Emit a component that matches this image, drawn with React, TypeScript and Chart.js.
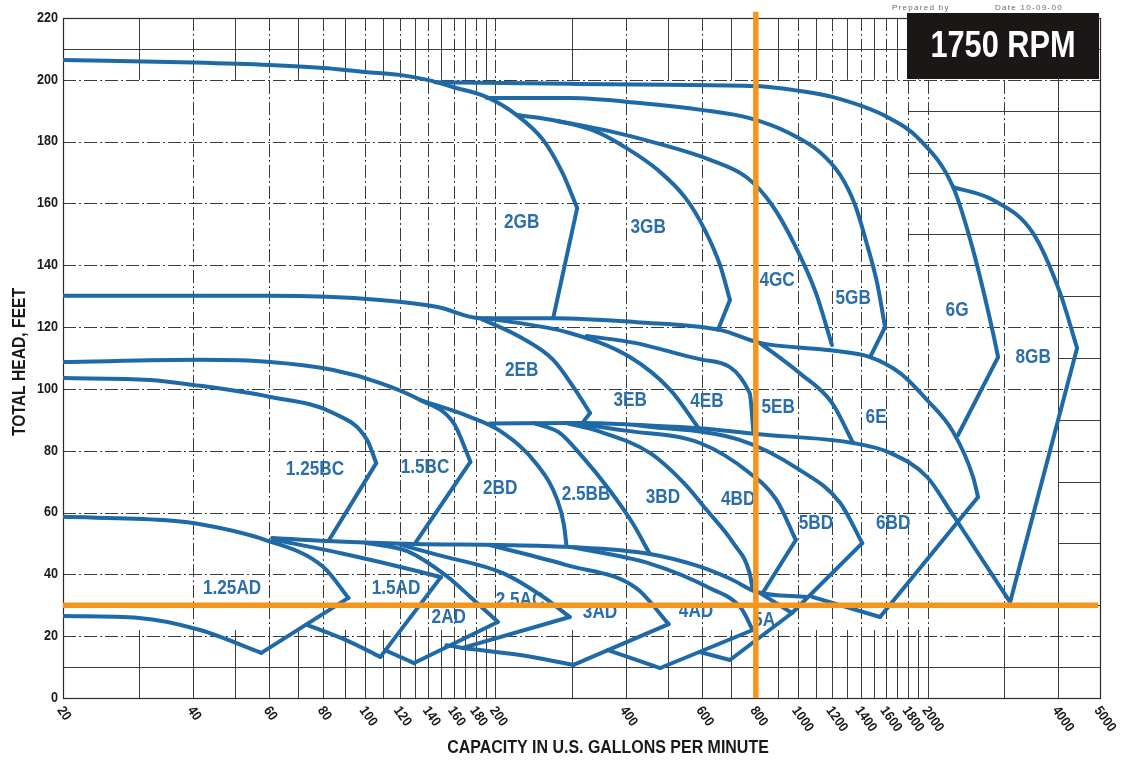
import React, { useEffect, useRef } from 'react';
import { Chart, registerables } from 'chart.js';

Chart.register(...registerables);

type P = [number, number];

// ---- axis ticks ----
const xTickValues = [20, 40, 60, 80, 100, 120, 140, 160, 180, 200, 400, 600, 800, 1000, 1200, 1400, 1600, 1800, 2000, 4000, 5000];
const yTickValues = [0, 20, 40, 60, 80, 100, 120, 140, 160, 180, 200, 220];
const gridGpm = [20, 30, 40, 50, 60, 70, 80, 90, 100, 110, 120, 130, 140, 150, 160, 170, 180, 190, 200, 300, 400, 500, 600, 700, 800, 900, 1000, 1100, 1200, 1300, 1400, 1500, 1600, 1700, 1800, 1900, 2000, 3000, 4000, 5000];
const dashedHeads = [20, 40, 60, 80, 100, 120, 140, 160, 180, 200];

// ---- pump curves: [capacity gpm, total head ft] ----
// G family
const curve2GB: P[] = [[20, 206.4], [40, 205.6], [60, 204.8], [80, 203.8], [100, 202.5], [120, 201.6], [140, 199.9], [160, 197.6], [191, 194.4], [224, 188.6], [258, 180.5], [286, 169.8], [309, 158.5]];
const kink2GB: P[] = [[309, 158.5], [272, 122.9]];
const curve6G: P[] = [[145, 199.2], [300, 198.7], [500, 198.4], [800, 198], [1000, 196.5], [1208, 194.4], [1610, 188], [1919, 180.5], [2287, 165.3], [2544, 144.9], [2830, 118], [2906, 110.3]];
const kink6G: P[] = [[2906, 110.3], [2348, 85.1]];
const curve8GB: P[] = [[2287, 165.3], [2830, 161.1], [3500, 150.4], [4044, 131], [4426, 113.2]];
const kink8GB: P[] = [[4426, 113.2], [3098, 31]];
const curve5GB: P[] = [[191, 194.1], [297, 194.1], [431, 192.5], [604, 190.2], [774, 187.6], [955, 182.8], [1126, 176.6], [1254, 169.2], [1357, 159.5], [1447, 146.6], [1526, 134.3], [1592, 120]];
const kink5GB: P[] = [[1592, 120], [1470, 110.3]];
const curve3GB: P[] = [[224, 188.6], [278, 186.7], [340, 183.4], [402, 177.9], [475, 170.8], [550, 161.8], [610, 151.4], [661, 140.1], [697, 128.8]];
const kink3GB: P[] = [[697, 128.8], [654, 119.1]];
const curve4GC: P[] = [[278, 186.7], [367, 183.4], [481, 179.2], [627, 174.1], [763, 168.4], [872, 159.5], [984, 146.6], [1100, 131.3], [1200, 114.2]];

// E family
const curveETop: P[] = [[20, 130.1], [60, 130.1], [108, 128.8], [147, 126.5], [184, 122.9], [272, 122.9], [424, 121.6], [661, 119.1], [817, 114.9], [1190, 112.5], [1470, 110.3], [1725, 105.1], [1991, 96.4], [2287, 86.1], [2544, 71.5], [2612, 65]];
const kink6E: P[] = [[2612, 65], [1550, 26.2]];
const curve2EB: P[] = [[184, 122.9], [228, 116.8], [272, 109.4], [303, 100.6], [331, 92.2]];
const kink2EB: P[] = [[331, 92.2], [318, 89]];
const curve3EB: P[] = [[191, 122.9], [297, 118.1], [409, 110.3], [508, 99.6], [594, 86.7]];
const curve4EB: P[] = [[325, 117.1], [420, 114.9], [604, 109.4], [774, 98.7], [790, 86]];
const curve5EB: P[] = [[817, 114.9], [1010, 105.1], [1200, 95.5], [1343, 82.5]];

// B / D family
const curve125BC: P[] = [[20, 103.5], [31.8, 102.9], [40, 101.3], [60.3, 97.4], [84.3, 92.2], [101, 83.5], [106, 76]];
const kink125BC: P[] = [[106, 76], [82.2, 50.8]];
const curve15BC: P[] = [[20, 108.7], [41.5, 109.4], [60.3, 108.7], [84.3, 106.1], [108.4, 101.9], [134, 96.4], [160, 89], [171.8, 79.3], [175, 76.4]];
const kink15BC: P[] = [[175, 76.4], [130, 49.8]];
const curve2BD: P[] = [[134, 96.4], [175, 90.9], [205, 86.4], [250, 75.4], [278, 64.1], [288, 56], [292, 49.2]];
const curveDTop: P[] = [[194, 88.8], [318, 89], [431, 88.3], [594, 87.3], [800, 85.4], [1343, 82.5], [1636, 79.3], [1991, 71.5], [2287, 59.2]];
const tailDTop: P[] = [[2287, 59.2], [3098, 31]];
const curve25BB: P[] = [[245, 88.9], [280, 86], [318, 78], [367, 67.3], [415, 56.6], [455, 46.6]];
const curve3BD: P[] = [[290, 89], [350, 86.1], [455, 79.3], [545, 69.6], [616, 60.8], [710, 50.1], [774, 40.4], [787, 35]];
const curve4BD: P[] = [[300, 89], [400, 86.5], [594, 82.5], [774, 72.8], [893, 64.1], [990, 51.1]];
const kink4BD: P[] = [[990, 51.1], [830, 34]];
const curve5BD: P[] = [[420, 88.3], [734, 83.5], [1010, 73.8], [1254, 63.1], [1410, 50.1]];
const kink5BD: P[] = [[1410, 50.1], [970, 27.5]];
const bottom6BD: P[] = [[1080, 32.7], [1550, 26.2]];

// A family
const curve125ADTop: P[] = [[20, 58.6], [34.1, 57.6], [40, 56.6], [58.8, 51.1], [80, 42.4], [91.4, 32.4]];
const kink125AD: P[] = [[91.4, 32.4], [57.5, 14.6]];
const curve125ADBottom: P[] = [[20, 26.5], [30, 25.9], [41.5, 22], [57.5, 14.6]];
const curveATop: P[] = [[60.9, 51.8], [81.8, 50.8], [130, 49.8], [205, 49.5], [292, 48.9], [455, 46.6], [594, 42.5], [700, 38.5], [804, 34.3], [1050, 32.7]];
const curve15ADTop: P[] = [[61.2, 51.3], [87.3, 46.9], [120.6, 42.4], [149.6, 39.1]];
const kink15AD: P[] = [[149.6, 39.1], [108.4, 13.3]];
const curve15ADBottom: P[] = [[73.6, 23.6], [90, 18.8], [108.4, 13.3]];
const curve2ADTop: P[] = [[100, 50.2], [125, 47.5], [154, 39.5], [175, 32.7], [202.6, 24.6]];
const kink2AD: P[] = [[202.6, 24.6], [129.7, 11.3]];
const curve2ADBottom: P[] = [[111, 15.5], [129.7, 11.3]];
const curve25ACTop: P[] = [[120.6, 49.6], [147, 46.3], [208, 40.4], [258, 32.7], [297, 26.2]];
const kink25AC: P[] = [[297, 26.2], [168, 16.2]];
const curve25ACBottom: P[] = [[154, 17.1], [168, 16.2]];
const curve3ADTop: P[] = [[194, 49.5], [292, 43], [424, 35.5], [503, 23.9]];
const kink3AD: P[] = [[503, 23.9], [303, 10.7]];
const curve3ADBottom: P[] = [[168, 16.2], [228, 13.9], [303, 10.7]];
const curve4ADTop: P[] = [[300, 48.8], [455, 43.5], [627, 35.5], [740, 29], [787, 22]];
const kink4AD: P[] = [[787, 22], [481, 9.7]];
const curve4ADBottom: P[] = [[364, 15.5], [481, 9.7]];
const curve5ATop: P[] = [[817, 34], [970, 27.5]];
const kink5A: P[] = [[970, 27.5], [697, 12.3]];
const curve5ABottom: P[] = [[594, 14.9], [697, 12.3]];

// ---- model labels ----
const modelNames = ['2GB', '3GB', '4GC', '5GB', '6G', '8GB', '2EB', '3EB', '4EB', '5EB', '6E', '1.25BC', '1.5BC', '2BD', '2.5BB', '3BD', '4BD', '5BD', '6BD', '1.25AD', '1.5AD', '2AD', '2.5AC', '3AD', '4AD', '5A'];
const modelGpm = [230, 451, 896, 1343, 2336, 3502, 230, 410, 617, 901, 1518, 76.5, 137.5, 205, 324, 488, 728, 1102, 1662, 49.2, 117.8, 156, 228, 349, 582, 836];
const modelHead = [154, 152.1, 135.2, 129.4, 125.5, 110.3, 105.8, 96.4, 95.8, 94.1, 90.6, 73.8, 74.7, 67.9, 65.7, 65, 64.1, 56.6, 56.3, 35.3, 35.3, 26.2, 31.7, 27.8, 28.1, 25.2];

// ---- reference (duty point) lines ----
const referenceGpm = [800];
const referenceHead = [30];

const smoothCurves: P[][] = [
  curve2GB, curve6G, curve8GB, curve5GB, curve3GB, curve4GC,
  curveETop, curve2EB, curve3EB, curve4EB, curve5EB,
  curve125BC, curve15BC, curve2BD, curveDTop, curve25BB, curve3BD, curve4BD, curve5BD,
  curve125ADTop, curve125ADBottom, curveATop, curve15ADTop, curve15ADBottom, curve2ADTop, curve2ADBottom,
  curve25ACTop, curve25ACBottom, curve3ADTop, curve3ADBottom, curve4ADTop, curve4ADBottom, curve5ATop, curve5ABottom,
];
const straightSegments: P[][] = [
  kink2GB, kink6G, kink8GB, kink5GB, kink3GB, kink6E, kink2EB,
  kink125BC, kink15BC, tailDTop, kink4BD, kink5BD, bottom6BD,
  kink125AD, kink15AD, kink2AD, kink25AC, kink3AD, kink4AD, kink5A,
];

const BLUE = '#1e69a6';
const LABEL_BLUE = '#2b6ea9';
const ORANGE = '#f4961e';
const GRID = '#3c3c3c';
const FONT = '"Liberation Sans", Arial, sans-serif';

function drawText(
  ctx: CanvasRenderingContext2D, s: string, x: number, y: number,
  o: { size: number; color: string; sx?: number; align?: CanvasTextAlign; rot?: number; weight?: string; spacing?: string }
) {
  ctx.save();
  ctx.translate(x, y);
  if (o.rot) ctx.rotate(o.rot);
  ctx.scale(o.sx ?? 1, 1);
  ctx.font = `${o.weight ?? 'bold'} ${o.size}px ${FONT}`;
  ctx.fillStyle = o.color;
  ctx.textAlign = o.align ?? 'center';
  ctx.textBaseline = 'middle';
  if (o.spacing) (ctx as any).letterSpacing = o.spacing;
  ctx.fillText(s, 0, 0);
  ctx.restore();
}

const decorPlugin = {
  id: 'decor',
  beforeDatasetsDraw(chart: any) {
    const { ctx, chartArea: a } = chart;
    const X = (v: number) => chart.scales.x.getPixelForValue(v);
    const Y = (v: number) => chart.scales.y.getPixelForValue(v);
    const DASH = [13, 3, 2, 3];
    ctx.save();
    ctx.strokeStyle = GRID;
    ctx.lineWidth = 1;
    const line = (x1: number, y1: number, x2: number, y2: number, dash: number[]) => {
      ctx.setLineDash(dash);
      ctx.beginPath();
      ctx.moveTo(x1, y1);
      ctx.lineTo(x2, y2);
      ctx.stroke();
    };
    for (const v of gridGpm) {
      const px = Math.round(X(v)) + 0.5;
      if (v === 4000) {
        line(px, a.top, px, a.bottom, []);
      } else if (xTickValues.includes(v) || v === 3000) {
        line(px, a.top, px, Y(20), DASH);
        line(px, Y(20), px, a.bottom, []);
      } else {
        line(px, a.top, px, Y(200), []);
        line(px, Y(22), px, a.bottom, []);
      }
    }
    for (const h of dashedHeads) {
      const py = Math.round(Y(h)) + 0.5;
      line(a.left, py, a.right, py, DASH);
    }
    for (const h of [10, 210]) {
      const py = Math.round(Y(h)) + 0.5;
      line(a.left, py, a.right, py, []);
    }
    for (const h of [150, 170, 190]) {
      const py = Math.round(Y(h)) + 0.5;
      line(X(1800), py, a.right, py, []);
    }
    for (const h of [30, 50, 70, 90, 110, 130]) {
      const py = Math.round(Y(h)) + 0.5;
      line(X(4000), py, a.right, py, []);
    }
    ctx.setLineDash([]);
    ctx.lineWidth = 1.2;
    ctx.strokeStyle = '#2a2a2a';
    ctx.strokeRect(a.left + 0.5, a.top + 0.5, a.right - a.left, a.bottom - a.top);
    ctx.restore();

    modelNames.forEach((name, i) => {
      drawText(ctx, name, X(modelGpm[i]), Y(modelHead[i]), { size: 20, color: LABEL_BLUE, sx: 0.86 });
    });
  },
  afterDraw(chart: any) {
    const { ctx, chartArea: a } = chart;
    const X = (v: number) => chart.scales.x.getPixelForValue(v);
    const Y = (v: number) => chart.scales.y.getPixelForValue(v);
    for (const v of yTickValues) {
      drawText(ctx, String(v), a.left - 5, Y(v), { size: 14, color: '#1a1a1a', sx: 0.9, align: 'right' });
    }
    for (const v of xTickValues) {
      drawText(ctx, String(v), X(v) - 3, a.bottom + 10, { size: 14, color: '#1a1a1a', sx: 0.88, align: 'left', rot: 0.96 });
    }
    drawText(ctx, 'TOTAL HEAD, FEET', 20, (a.top + a.bottom) / 2 + 4, { size: 18, color: '#1a1a1a', sx: 0.87, rot: -Math.PI / 2 });
    drawText(ctx, 'CAPACITY IN U.S. GALLONS PER MINUTE', a.left + 545, a.bottom + 50, { size: 19, color: '#1a1a1a', sx: 0.84 });

    // speed box
    ctx.save();
    ctx.fillStyle = '#1b1716';
    ctx.fillRect(a.right - 193, a.top - 5, 192, 66);
    ctx.restore();
    drawText(ctx, '1750 RPM', a.right - 97, a.top + 29, { size: 37, color: '#ffffff', sx: 0.83 });
    drawText(ctx, 'Prepared by', a.right - 208, 8, { size: 8, color: '#6a6a6a', align: 'left', weight: 'normal', spacing: '1.3px' });
    drawText(ctx, 'Date 10-09-00', a.right - 105, 8, { size: 8, color: '#6a6a6a', align: 'left', weight: 'normal', spacing: '1.3px' });
  },
};

export default function App() {
  const ref = useRef<HTMLCanvasElement | null>(null);
  useEffect(() => {
    if (!ref.current) return;
    const toPts = (arr: P[]) => arr.map(([x, y]) => ({ x, y }));
    const datasets: any[] = [];
    datasets.push({
      data: [{ x: referenceGpm[0], y: 0 }, { x: referenceGpm[0], y: 222 }],
      showLine: true, pointRadius: 0, borderColor: ORANGE, borderWidth: 5.5, tension: 0, clip: false, order: 0,
    });
    datasets.push({
      data: [{ x: 20, y: referenceHead[0] }, { x: 4950, y: referenceHead[0] }],
      showLine: true, pointRadius: 0, borderColor: ORANGE, borderWidth: 5.5, tension: 0, clip: false, order: 0,
    });
    for (const c of smoothCurves) {
      datasets.push({
        data: toPts(c), showLine: true, pointRadius: 0, borderColor: BLUE, borderWidth: 4,
        cubicInterpolationMode: 'monotone', borderCapStyle: 'round', borderJoinStyle: 'round', order: 1,
      });
    }
    for (const c of straightSegments) {
      datasets.push({
        data: toPts(c), showLine: true, pointRadius: 0, borderColor: BLUE, borderWidth: 4,
        tension: 0, borderCapStyle: 'round', borderJoinStyle: 'round', order: 1,
      });
    }
    const chart = new Chart(ref.current, {
      type: 'scatter',
      data: { datasets },
      options: {
        animation: false,
        responsive: false,
        devicePixelRatio: 1,
        events: [],
        layout: { padding: { left: 63, right: 21, top: 18, bottom: 63 } },
        plugins: { legend: { display: false }, tooltip: { enabled: false } },
        scales: {
          x: { type: 'logarithmic', min: 20, max: 5000, display: false },
          y: { type: 'linear', min: 0, max: 220, display: false },
        },
      } as any,
      plugins: [decorPlugin],
    });
    return () => chart.destroy();
  }, []);
  return (
    <div style={{ position: 'absolute', left: 0, top: 0, width: 1121, height: 761, background: '#ffffff' }}>
      <canvas ref={ref} width={1121} height={761} style={{ display: 'block' }} />
    </div>
  );
}
